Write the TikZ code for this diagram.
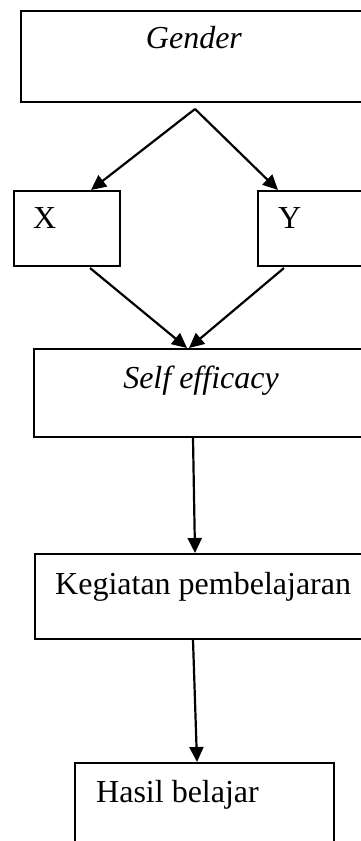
\documentclass[tikz,border=0pt]{standalone}
\usepackage{fontspec}
\setmainfont{Liberation Serif}
\usetikzlibrary{arrows.meta,calc}
\begin{document}
\begin{tikzpicture}[x=1pt,y=-1pt,
  box/.style={draw,line width=2pt,rectangle,inner sep=0pt,anchor=north west},
  lbl/.style={inner sep=0pt,font=\fontsize{32pt}{38pt}\selectfont},
  arr/.style={line width=2.2pt,-{Triangle[length=15pt,width=14pt]}}]
\useasboundingbox (0,0) rectangle (361,841);
\clip (0,0) rectangle (361,841);
\fill[white] (0,0) rectangle (361,841);
% boxes
\node[box,minimum width=370pt,minimum height=91pt] (gender) at (20,10) {};
\node[box,minimum width=106pt,minimum height=75pt] (xb) at (13,190) {};
\node[box,minimum width=130pt,minimum height=75pt] (yb) at (257,190) {};
\node[box,minimum width=350pt,minimum height=88pt] (se) at (33,348) {};
\node[box,minimum width=350pt,minimum height=85pt] (kp) at (34,553) {};
\node[box,minimum width=259pt,minimum height=100pt] (hb) at (74,762) {};
% texts
\node[lbl,anchor=base] (tg) at (194,48) {\textit{Gender}};
\node[lbl,anchor=base west] (tx) at (33,228) {X};
\node[lbl,anchor=base west] (ty) at (278,228) {Y};
\node[lbl,anchor=base] (tse) at (201,388) {\textit{Self efficacy}};
\node[lbl,anchor=base west] (tkp) at (55,594) {Kegiatan pembelajaran};
\node[lbl,anchor=base west] (thb) at (96,802) {Hasil belajar};
% connectors
\coordinate (gs) at ($(gender.south west)+(175,6)$);
\draw[arr] (gs) -- ($(xb.north west)+(78,0)$);
\draw[arr] (gs) -- ($(yb.north west)+(21,0)$);
\draw[arr] ($(xb.south west)+(77,1)$) -- ($(se.north west)+(154,0)$);
\draw[arr] ($(yb.south west)+(27,1)$) -- ($(se.north west)+(156,0)$);
\draw[arr] ($(se.south west)+(160,0)$) -- ($(kp.north west)+(161,0)$);
\draw[arr] ($(kp.south west)+(159,0)$) -- ($(hb.north west)+(123,0)$);
\end{tikzpicture}
\end{document}
